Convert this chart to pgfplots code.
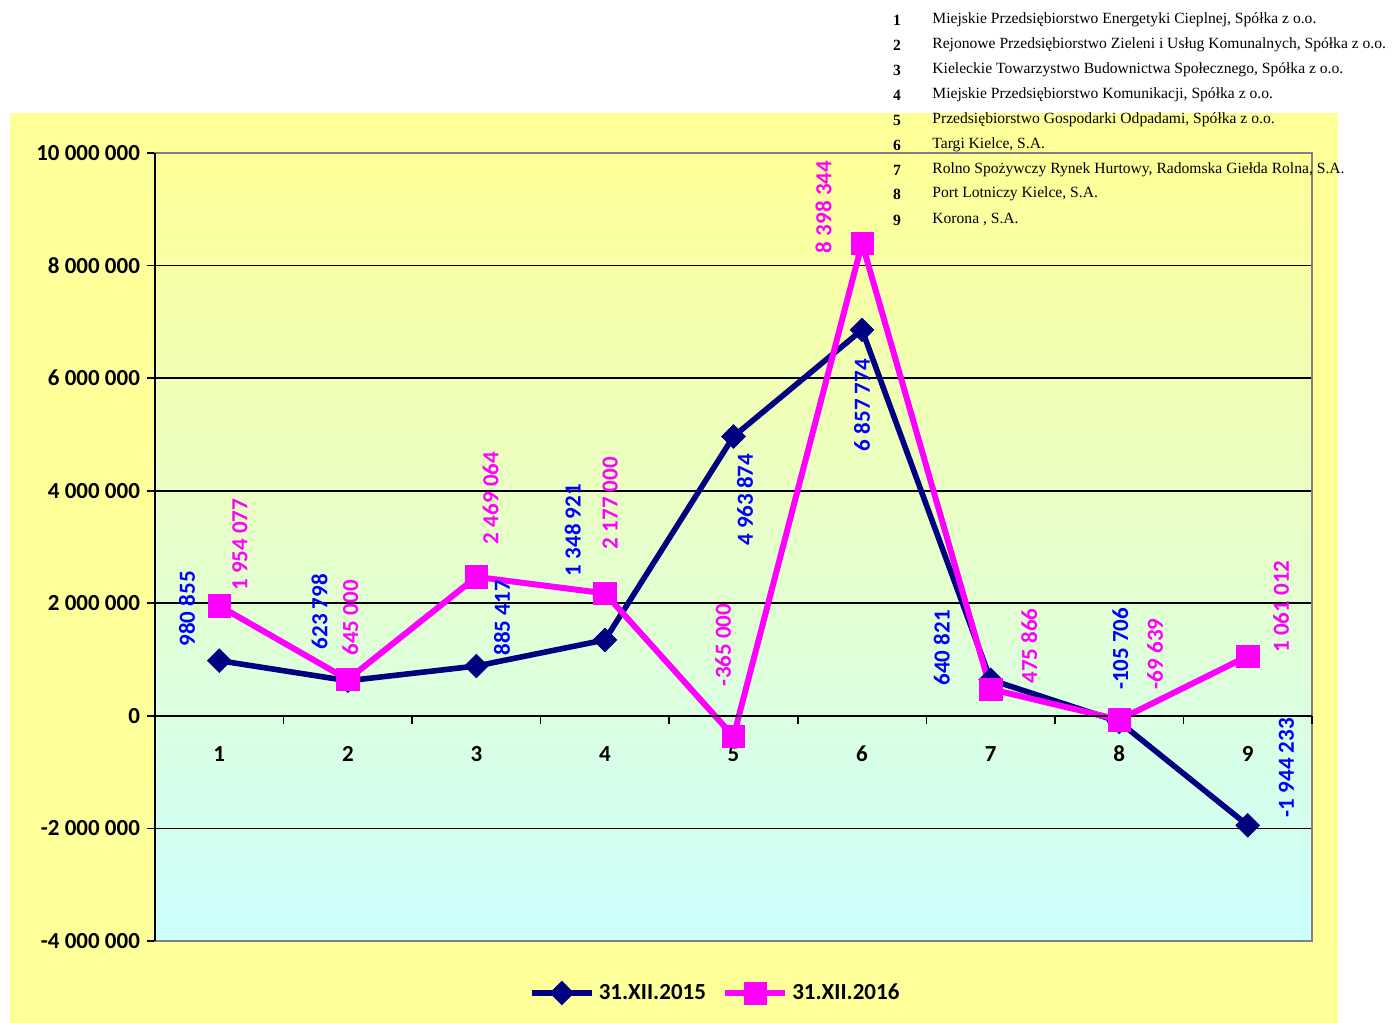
\documentclass[border=0pt]{standalone}
\usepackage{pgfplots}
\pgfplotsset{compat=1.18}
\usepackage{fontspec}
\setmainfont{Carlito}
\newfontfamily\listfont{Liberation Serif}

\definecolor{bgyellow}{RGB}{255,255,153}
\definecolor{topyellow}{RGB}{255,255,150}
\definecolor{botcyan}{RGB}{204,255,255}
\definecolor{navyline}{RGB}{0,0,128}
\definecolor{labblue}{RGB}{0,0,255}
\definecolor{magline}{RGB}{255,0,255}

\newcommand{\lab}{\fontsize{11.5}{13}\selectfont\bfseries}
\newcommand{\row}[3]{%
  \node[font=\listfont\fontsize{7.8}{9}\selectfont\bfseries] at (897,#1) {#2};
  \node[font=\listfont\fontsize{7.8}{9}\selectfont, anchor=west, inner sep=0pt] at (932,#1) {#3};}

\begin{document}
\begin{tikzpicture}
\useasboundingbox (0pt,0pt) rectangle (699.5pt,-511.5pt);
\fill[bgyellow] (5pt,-56.5pt) rectangle (669pt,-511.5pt);

\begin{axis}[
  at={(77.5pt,-470.5pt)}, anchor=south west,
  width=578.5pt, height=394pt, scale only axis,
  xmin=0.5, xmax=9.5,
  ymin=-4000000, ymax=10000000,
  xtick=\empty,
  ytick={-4000000,-2000000,0,2000000,4000000,6000000,8000000,10000000},
  yticklabels={-4 000 000,-2 000 000,0,2 000 000,4 000 000,6 000 000,8 000 000,10 000 000},
  scaled y ticks=false,
  ytick pos=left, tick align=outside, major tick length=4pt,
  ytick style={black, line width=0.8pt},
  ymajorgrids, grid style={black, line width=0.8pt},
  axis line style={gray, line width=1pt},
  axis background/.style={top color=topyellow, bottom color=botcyan},
  tick label style={font=\lab},
  legend style={at={(0.485,-0.066)}, anchor=center, draw=none, fill=none,
    font=\lab, legend columns=2,
    /tikz/every even column/.append style={column sep=6pt}},
  legend image code/.code={\draw[mark repeat=2,mark phase=2,#1]
    plot coordinates {(0cm,0cm) (0.53cm,0cm) (1.06cm,0cm)};},
  clip=false,
]
\draw[black, line width=1.2pt] (rel axis cs:0,0) -- (rel axis cs:0,1);

\addplot[navyline, line width=2.8pt, mark=square*,
  mark options={rotate=45, mark size=4.2pt, line width=0.3pt, fill=navyline}]
  coordinates {(1,980855) (2,623798) (3,885417) (4,1348921) (5,4963874)
    (6,6857774) (7,640821) (8,-105706) (9,-1944233)};
\addlegendentry{31.XII.2015}

\addplot[magline, line width=3pt, mark=square*,
  mark options={mark size=5.6pt, line width=0.3pt, fill=magline}]
  coordinates {(1,1954077) (2,645000) (3,2469064) (4,2177000) (5,-365000)
    (6,8398344) (7,475866) (8,-69639) (9,1061012)};
\addlegendentry{31.XII.2016}

% category axis at zero
\draw[black, line width=1pt] (axis cs:0.5,0) -- (axis cs:9.5,0);
\pgfplotsinvokeforeach{1.5,2.5,3.5,4.5,5.5,6.5,7.5,8.5,9.5}{
  \draw[black, line width=0.8pt] (axis cs:#1,0) -- ++(0pt,-4pt);}
\pgfplotsinvokeforeach{1,...,9}{
  \node[font=\lab] at (axis cs:#1,0) [yshift=-19pt] {#1};}

% data labels 2015
\begin{scope}[every node/.style={rotate=90, font=\lab, text=labblue}]
\node at (axis cs:0.75,1900000) {980 855};
\node at (axis cs:1.78,1850000) {623 798};
\node at (axis cs:3.20,1740000) {885 417};
\node at (axis cs:3.75,3300000) {1 348 921};
\node at (axis cs:5.09,3840000) {4 963 874};
\node at (axis cs:6.00,5520000) {6 857 774};
\node at (axis cs:6.62,1210000) {640 821};
\node at (axis cs:8.01,1190000) {-105 706};
\node at (axis cs:9.30,-920000) {-1 944 233};
\end{scope}
% data labels 2016
\begin{scope}[every node/.style={rotate=90, font=\lab, text=magline}]
\node at (axis cs:1.16,3040000) {1 954 077};
\node at (axis cs:2.02,1740000) {645 000};
\node at (axis cs:3.11,3870000) {2 469 064};
\node at (axis cs:4.04,3780000) {2 177 000};
\node at (axis cs:4.92,1260000) {-365 000};
\node at (axis cs:5.70,9040000) {8 398 344};
\node at (axis cs:7.30,1240000) {475 866};
\node at (axis cs:8.28,1100000) {-69 639};
\node at (axis cs:9.26,1940000) {1 061 012};
\end{scope}
\end{axis}

\begin{scope}[x=0.5pt, y=-0.5pt]
\row{20}{1}{Miejskie Przedsiębiorstwo Energetyki Cieplnej, Spółka z o.o.}
\row{45}{2}{Rejonowe Przedsiębiorstwo Zieleni i Usług Komunalnych, Spółka z o.o.}
\row{70}{3}{Kieleckie Towarzystwo Budownictwa Społecznego, Spółka z o.o.}
\row{95}{4}{Miejskie Przedsiębiorstwo Komunikacji, Spółka z o.o.}
\row{120}{5}{Przedsiębiorstwo Gospodarki Odpadami, Spółka z o.o.}
\row{145}{6}{Targi Kielce, S.A.}
\row{170}{7}{Rolno Spożywczy Rynek Hurtowy, Radomska Giełda Rolna, S.A.}
\row{194}{8}{Port Lotniczy Kielce, S.A.}
\row{220}{9}{Korona , S.A.}
\end{scope}
\end{tikzpicture}
\end{document}
